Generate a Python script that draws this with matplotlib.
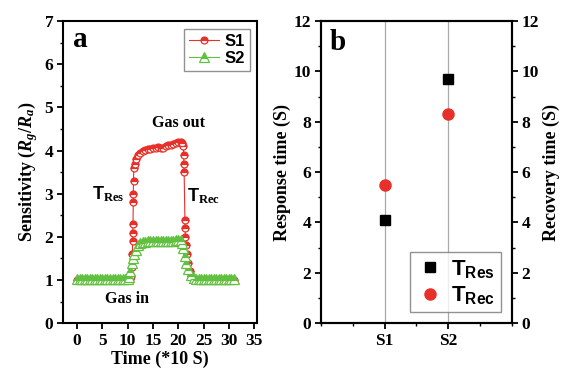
import matplotlib
matplotlib.use("Agg")
import matplotlib.pyplot as plt
from matplotlib.ticker import MultipleLocator

plt.rcParams['font.family'] = 'Liberation Serif'
plt.rcParams['font.weight'] = 'bold'
plt.rcParams['axes.labelweight'] = 'bold'
plt.rcParams['mathtext.fontset'] = 'custom'
plt.rcParams['mathtext.rm'] = 'Liberation Serif:bold'
plt.rcParams['mathtext.it'] = 'Liberation Serif:italic:bold'
plt.rcParams['mathtext.bf'] = 'Liberation Serif:bold'
plt.rcParams['mathtext.sf'] = 'Liberation Sans:bold'

# panel a: sensitivity vs time (*10 s)
t_s1 = [0, 0.5, 1, 1.5, 2, 2.5, 3, 3.5, 4, 4.5, 5, 5.5, 6, 6.5, 7, 7.5, 8, 8.5, 9, 9.5, 10, 10.5,
        10.7, 10.8, 10.9, 11.0, 11.0, 11.05, 11.1, 11.1, 11.15, 11.2, 11.4, 11.7, 12.0, 12.5, 13.0,
        13.5, 14.0, 14.5, 15.0, 15.5, 16.0, 16.5, 17.0, 17.5, 18.0, 18.5, 19.0, 19.5, 20.0, 20.5,
        20.8, 21.0, 21.05, 21.1, 21.15, 21.3, 21.35, 21.4, 21.5, 21.7, 22.0, 22.3, 22.6, 23.0,
        23.5, 24, 24.5, 25, 25.5, 26, 26.5, 27, 27.5, 28, 28.5, 29, 29.5, 30, 30.5, 31]
s1 = [1.0, 1.0, 1.0, 1.0, 1.0, 1.0, 1.0, 1.0, 1.0, 1.0, 1.0, 1.0, 1.0, 1.0, 1.0, 1.0, 1.0, 1.0, 1.0, 1.0, 1.0, 1.02,
      1.1, 1.3, 1.6, 1.9, 2.1, 2.3, 2.8, 3.0, 3.3, 3.6, 3.7, 3.8, 3.9, 3.95, 4.0,
      4.02, 4.03, 4.04, 4.05, 4.06, 4.08, 4.05, 4.07, 4.1, 4.12, 4.14, 4.16, 4.18, 4.19, 4.2,
      4.18, 4.1, 3.9, 3.7, 3.5, 2.4, 2.2, 2.0, 1.8, 1.6, 1.4, 1.2, 1.1, 1.02,
      1.0, 1.0, 1.0, 1.0, 1.0, 1.0, 1.0, 1.0, 1.0, 1.0, 1.0, 1.0, 1.0, 1.0, 1.0, 1.0]

t_s2 = [0, 0.5, 1, 1.5, 2, 2.5, 3, 3.5, 4, 4.5, 5, 5.5, 6, 6.5, 7, 7.5, 8, 8.5, 9, 9.5, 10,
        10.2, 10.5, 10.8, 11.0, 11.3, 11.6, 12.0, 12.5, 13.0, 13.5, 14.0, 14.5, 15.0, 15.5, 16.0,
        16.5, 17.0, 17.5, 18.0, 18.5, 19.0, 19.5, 20.0, 20.5, 20.8, 21.0, 21.3, 21.6, 22.0, 22.5,
        23.0, 23.5, 24, 24.5, 25, 25.5, 26, 26.5, 27, 27.5, 28, 28.5, 29, 29.5, 30, 30.5, 31]
s2 = [1.03, 1.03, 1.03, 1.03, 1.03, 1.03, 1.03, 1.03, 1.03, 1.03, 1.03, 1.03, 1.03, 1.03, 1.03, 1.03, 1.03, 1.03, 1.03, 1.03, 1.03,
      1.06, 1.2, 1.4, 1.5, 1.6, 1.7, 1.8, 1.86, 1.88, 1.89, 1.9, 1.9, 1.9, 1.91, 1.9,
      1.9, 1.9, 1.91, 1.9, 1.9, 1.91, 1.92, 1.92, 1.92, 1.85, 1.75, 1.55, 1.4, 1.25, 1.12,
      1.05, 1.03, 1.03, 1.03, 1.03, 1.03, 1.03, 1.03, 1.03, 1.03, 1.03, 1.03, 1.03, 1.03, 1.03, 1.03, 1.03]

# panel b: response / recovery times
samples = ['S1', 'S2']
t_res = [4.1, 9.7]
t_rec = [5.5, 8.3]

fig = plt.figure(figsize=(5.63, 3.71), dpi=100)
ax1 = fig.add_axes([0.112, 0.129, 0.345, 0.814])
ax2 = fig.add_axes([0.570, 0.129, 0.339, 0.814])

red = '#e8302a'
green = '#62c040'

ax1.plot(t_s1, s1, color=red, lw=0.8, marker='o', ms=5, fillstyle='top',
         markerfacecoloralt='white', mec=red, mew=0.9, label='S1')
ax1.plot(t_s2, s2, color=green, lw=0.8, marker='^', ms=6.5, fillstyle='top',
         markerfacecoloralt='white', mec=green, mew=0.9, label='S2')
ax1.set_xlim(-2.77, 35.6)
ax1.set_ylim(0, 7)
ax1.xaxis.set_major_locator(MultipleLocator(5))
ax1.yaxis.set_major_locator(MultipleLocator(1))
ax1.yaxis.set_minor_locator(MultipleLocator(0.5))
ax1.set_xlabel('Time (*10 S)', fontsize=13, labelpad=1)
ax1.set_ylabel('Sensitivity ($R_g/R_a$)', fontsize=13, labelpad=3)
ax1.text(0.088, 0.94, 'a', transform=ax1.transAxes, fontsize=21, ha='center', va='center')
ax1.text(20.0, 4.65, 'Gas out', fontsize=11.5, ha='center', va='center')
ax1.text(3.0, 3.0, r'$\mathsf{T}_{\mathbf{Res}}$', fontsize=13, ha='left', va='center')
ax1.text(21.8, 2.95, r'$\mathsf{T}_{\mathbf{Rec}}$', fontsize=13, ha='left', va='center')
ax1.text(9.8, 0.55, 'Gas in', fontsize=11.5, ha='center', va='center')
leg1 = ax1.legend(loc='upper right', prop={'family': 'Liberation Sans', 'weight': 'bold', 'size': 12},
                  fancybox=False, edgecolor='#777777', handlelength=1.8, borderpad=0.3,
                  labelspacing=0.15, handletextpad=0.3, borderaxespad=0.45)
leg1.get_frame().set_linewidth(1.0)

x_pos = [1, 2]
for x in x_pos:
    ax2.axvline(x, color='#aaaaaa', lw=0.9, zorder=0)
ax2.plot(x_pos, t_res, ls='none', marker='s', ms=6.5, color='black', label=r'$\mathsf{T}_{\mathsf{Res}}$')
ax2.plot(x_pos, t_rec, ls='none', marker='o', ms=8, color=red, label=r'$\mathsf{T}_{\mathsf{Rec}}$')
ax2.set_xlim(0, 3)
ax2.set_ylim(0, 12)
ax2.set_xticks(x_pos)
ax2.set_xticklabels(samples)
ax2.xaxis.set_minor_locator(MultipleLocator(0.5))
ax2.yaxis.set_major_locator(MultipleLocator(2))
ax2.yaxis.set_minor_locator(MultipleLocator(1))
ax2.set_ylabel('Response time (S)', fontsize=13, labelpad=2)
ax2.text(0.09, 0.93, 'b', transform=ax2.transAxes, fontsize=21, ha='center', va='center')
ax2r = ax2.twinx()
ax2r.set_ylim(0, 12)
ax2r.yaxis.set_major_locator(MultipleLocator(2))
ax2r.yaxis.set_minor_locator(MultipleLocator(1))
ax2r.set_ylabel('Recovery time (S)', fontsize=13, labelpad=3)
leg2 = ax2.legend(loc='lower right', prop={'size': 16}, fancybox=False, edgecolor='#777777',
                  borderpad=0.25, labelspacing=0.2, handletextpad=0.3, borderaxespad=0.5,
                  handlelength=1.3, markerscale=1.0)
leg2.get_frame().set_linewidth(1.0)

for ax in (ax1, ax2, ax2r):
    for sp in ax.spines.values():
        sp.set_linewidth(1.5)
    ax.tick_params(which='major', direction='out', length=4, width=1.3, labelsize=12.5, pad=3)
    ax.tick_params(which='minor', direction='out', length=2.5, width=1.0)
    plt.setp(ax.get_xticklabels(), fontweight='bold', family='Liberation Serif')
    plt.setp(ax.get_yticklabels(), fontweight='bold', family='Liberation Serif')

fig.savefig('out.png', dpi=100)
